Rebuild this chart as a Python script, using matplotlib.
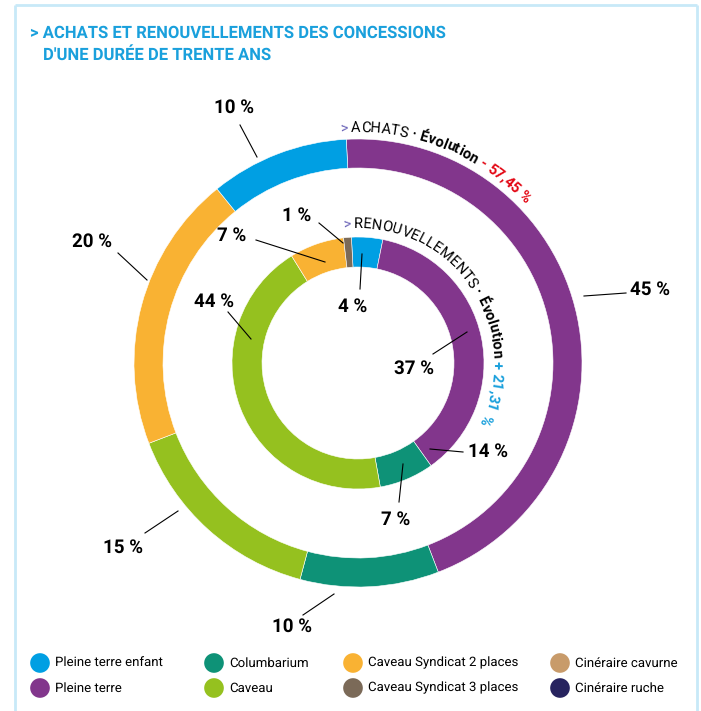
import math
import matplotlib
matplotlib.use("Agg")
import matplotlib.pyplot as plt
from matplotlib.font_manager import FontProperties, findfont, get_font
try:
    from matplotlib.ft2font import LoadFlags
    NO_HINT = LoadFlags.NO_HINTING
except ImportError:
    from matplotlib.ft2font import LOAD_NO_HINTING as NO_HINT

plt.rcParams['font.family'] = ['Roboto', 'DejaVu Sans']
plt.rcParams['text.hinting'] = 'no_hinting'

# categories and colours (legend order)
categories = ['Pleine terre enfant', 'Pleine terre', 'Columbarium', 'Caveau',
              'Caveau Syndicat 2 places', 'Caveau Syndicat 3 places',
              'Cinéraire cavurne', 'Cinéraire ruche']
colors = {'Pleine terre enfant': '#009fe3', 'Pleine terre': '#82368c',
          'Columbarium': '#0e9277', 'Caveau': '#95c11f',
          'Caveau Syndicat 2 places': '#f9b233', 'Caveau Syndicat 3 places': '#7b6a58',
          'Cinéraire cavurne': '#c89b6a', 'Cinéraire ruche': '#27235f'}

# achats (outer ring), clockwise from the top
achats_cat = ['Pleine terre', 'Columbarium', 'Caveau', 'Caveau Syndicat 2 places',
              'Pleine terre enfant']
achats_val = [45, 10, 15, 20, 10]

# renouvellements (inner ring), clockwise from the top
renouv_cat = ['Pleine terre enfant', 'Pleine terre', 'Columbarium', 'Caveau',
              'Caveau Syndicat 2 places', 'Caveau Syndicat 3 places']
renouv_val = [4, 37, 7, 44, 7, 1]

# labels as printed : text, text pos, leader from, leader to
outer_labels = [('45 %', (650, 290), (626, 293), (584, 296)),
                ('10 %', (292, 627), (303, 615), (334, 594)),
                ('15 %', (123, 548), (145, 533), (178, 511)),
                ('20 %', (92, 242), (118, 253), (147, 280)),
                ('10 %', (234, 108), (240, 125), (257, 157))]
inner_labels = [('4 %', (353, 307), (360, 289), (362, 254)),
                ('37 %', (414, 369), (433, 354), (467, 332)),
                ('14 %', (488, 452), (463, 452), (430, 449)),
                ('7 %', (396, 520), (399, 502), (403, 464)),
                ('44 %', (214, 302), (228, 312), (251, 339)),
                ('7 %', (232, 236), (256, 240), (325, 262)),
                ('1 %', (297, 216), (319, 223), (343, 243))]

cx, cy = 358, 363
R_out, W_out = 224, 29
R_in, W_in = 126, 30

fig = plt.figure(figsize=(7.01, 7.11), dpi=100)
ax = fig.add_axes([0, 0, 1, 1])

# y axis points down (pixel like), so "counterclock" looks clockwise
ax.pie(achats_val, colors=[colors[c] for c in achats_cat], radius=R_out, center=(cx, cy),
       startangle=-93, counterclock=True,
       wedgeprops=dict(width=W_out, edgecolor='white', linewidth=0.4))
ax.pie(renouv_val, colors=[colors[c] for c in renouv_cat], radius=R_in, center=(cx, cy),
       startangle=-93, counterclock=True,
       wedgeprops=dict(width=W_in, edgecolor='white', linewidth=0.4))

ax.set_xlim(0, 701)
ax.set_ylim(711, 0)
ax.set_aspect('auto')
ax.axis('off')

# frame
frame_c = '#c8e9f8'
ax.plot([15, 15], [711, 5], color=frame_c, lw=2, solid_capstyle='butt')
ax.plot([15, 697], [5, 5], color=frame_c, lw=2, solid_capstyle='butt')
ax.plot([697, 697], [5, 711], color=frame_c, lw=2, solid_capstyle='butt')

# title
ax.text(30, 38, '> ACHATS ET RENOUVELLEMENTS DES CONCESSIONS', color='#1aa0dc',
        fontsize=12, fontweight='bold', va='baseline')
ax.text(43, 60, "D'UNE DURÉE DE TRENTE ANS", color='#1aa0dc',
        fontsize=12, fontweight='bold', va='baseline')

# percentage labels
for txt, tpos, p0, p1 in outer_labels + inner_labels:
    ax.plot([p0[0], p1[0]], [p0[1], p1[1]], color='black', lw=0.8)
    ax.text(tpos[0], tpos[1], txt, fontsize=13.5, fontweight='bold',
            ha='center', va='center')


def advance(ch, fp):
    font = get_font(findfont(fp))
    font.set_size(fp.get_size_in_points(), 100)
    g = font.load_char(ord(ch), flags=NO_HINT)
    return g.linearHoriAdvance / 65536


def curved(pieces, r, start):
    # one glyph at a time along the circle, pen position as anchor
    theta = start
    for text, col, wt in pieces:
        fp = FontProperties(family='Roboto', weight=wt, size=10.5)
        for ch in text:
            adv = advance(ch, fp)
            if ch != ' ':
                mid = theta + math.degrees(adv / 2 / r)
                x = cx + r * math.sin(math.radians(theta))
                y = cy - r * math.cos(math.radians(theta))
                ax.text(x, y, ch, fontproperties=fp, color=col, rotation=-mid,
                        rotation_mode='anchor', ha='left', va='baseline')
            theta += math.degrees(adv / r)


curved([('> ', '#6b64b8', 'normal'), ('ACHATS ', 'black', 'normal'),
        ('· Évolution ', 'black', 'bold'), ('- 57,45 %', '#e30613', 'bold')],
       231, -4.5)
curved([('> ', '#6b64b8', 'normal'), ('RENOUVELLEMENTS ', 'black', 'normal'),
        ('· Évolution ', 'black', 'bold'), ('+ 21,31 %', '#1aa0dc', 'bold')],
       135, -6.5)

# legend
leg_x = [40, 214, 353, 560]
leg_y = [663, 688]
for i, name in enumerate(categories):
    lx = leg_x[i // 2]
    ly = leg_y[i % 2]
    ax.scatter([lx], [ly], s=200, color=colors[name], edgecolors='none')
    ax.text(lx + 15, ly, name, fontsize=9.5, va='center', ha='left')

plt.savefig('out.png', dpi=100)
